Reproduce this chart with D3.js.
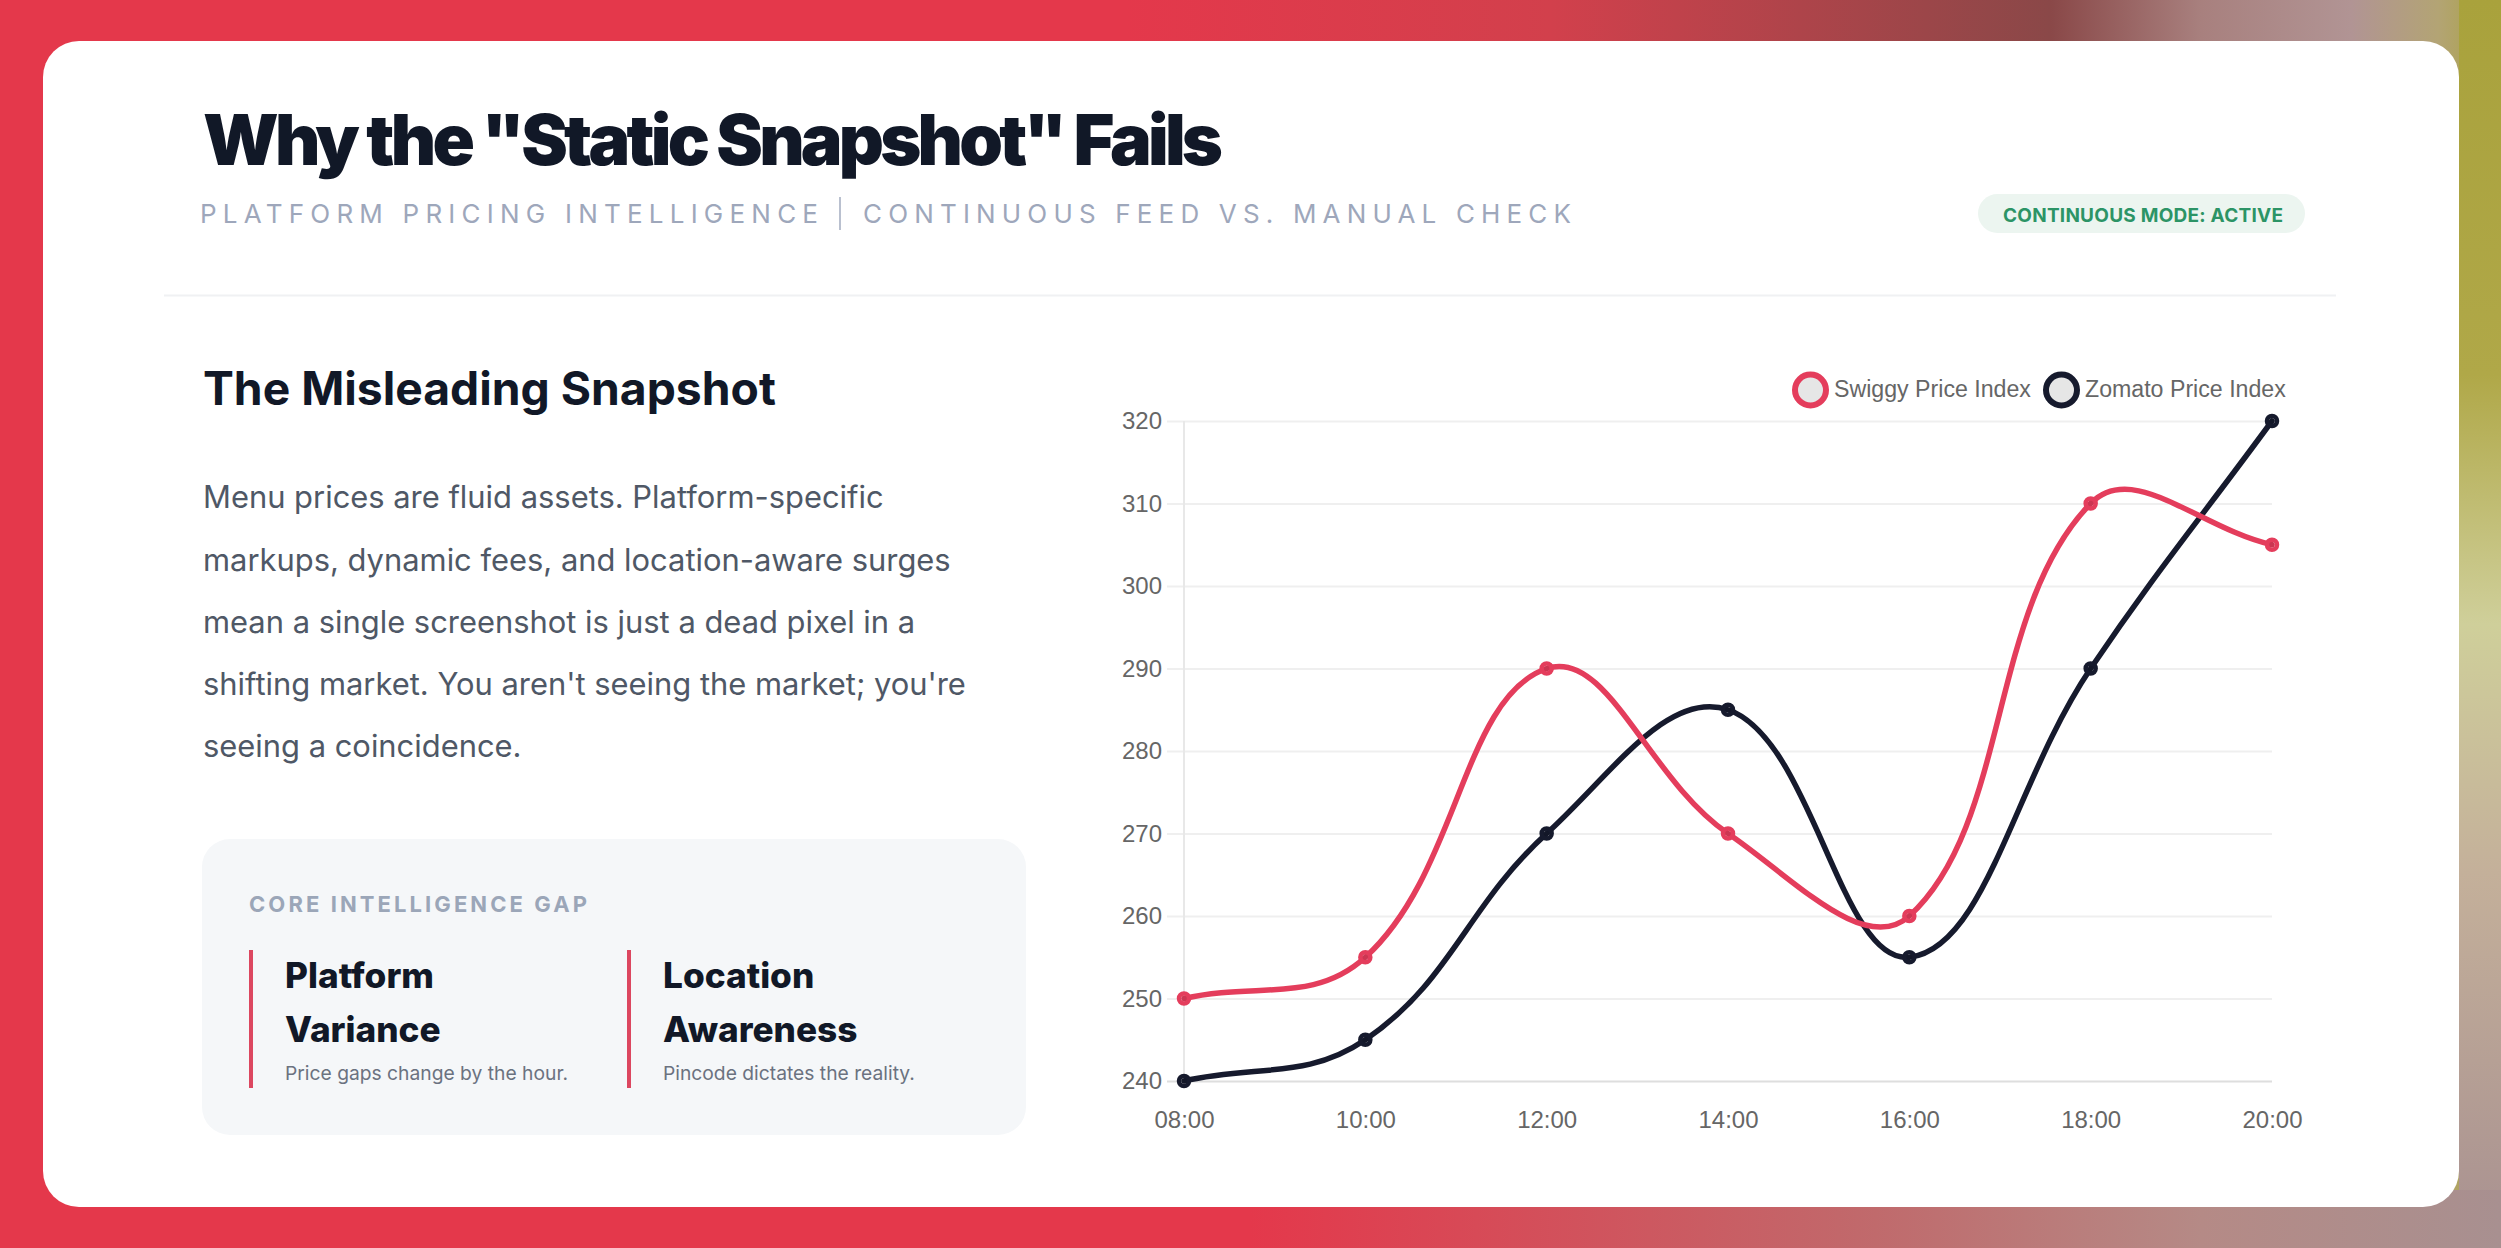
<!DOCTYPE html>
<html>
<head>
<meta charset="utf-8">
<script src="https://cdn.jsdelivr.net/npm/d3@7"></script>
<style>
  html, body { margin: 0; padding: 0; background: #e4384b; overflow: hidden; }
  svg { display: block; }
</style>
</head>
<body>
<svg id="root" width="2501" height="1248"></svg>
<script>
// ---------- DATA ----------
const categories = ["08:00", "10:00", "12:00", "14:00", "16:00", "18:00", "20:00"];
const swiggyValues = [250, 255, 290, 270, 260, 310, 305];
const zomatoValues = [240, 245, 270, 285, 255, 290, 320];
const yTickValues = [240, 250, 260, 270, 280, 290, 300, 310, 320];
const seriesNames = ["Swiggy Price Index", "Zomato Price Index"];
const paragraphLines = [
  "Menu prices are fluid assets. Platform-specific",
  "markups, dynamic fees, and location-aware surges",
  "mean a single screenshot is just a dead pixel in a",
  "shifting market. You aren't seeing the market; you're",
  "seeing a coincidence."
];

// ---------- STYLE ----------
const RED = "#e43d5c";
const NAVY = "#161a2d";
const svg = d3.select("#root");
const W = 2501, H = 1248;

function fitLS(sel, target) {
  sel.attr("letter-spacing", 0);
  const n = sel.text().length;
  const w = sel.node().getComputedTextLength();
  sel.attr("letter-spacing", (target - w) / Math.max(1, n - 1));
}
function fitFS(sel, target) {
  const fs = +sel.attr("font-size");
  const w = sel.node().getComputedTextLength();
  const nf = fs * target / w;
  sel.attr("font-size", nf);
  return nf;
}

// ---------- BACKGROUND ----------
const defs = svg.append("defs");
const bg = defs.append("linearGradient").attr("id", "bgGrad").attr("x1", 0).attr("x2", 1).attr("y1", 0).attr("y2", 0);
[[0, "#e4384b"], [0.45, "#e4384b"], [0.62, "#d2404c"], [0.82, "#8a4848"], [0.88, "#a8807e"], [0.94, "#b19494"], [0.975, "#b3a474"], [1, "#a9a23c"]]
  .forEach(([o, c]) => bg.append("stop").attr("offset", o).attr("stop-color", c));
svg.append("rect").attr("width", W).attr("height", H).attr("fill", "url(#bgGrad)");
// right strip beside the card
const bgR = defs.append("linearGradient").attr("id", "bgRight").attr("x1", 0).attr("x2", 0).attr("y1", 0).attr("y2", 1);
[[0, "#a9a23c"], [0.3, "#b0a848"], [0.5, "#cfcf9a"], [0.7, "#c4b09a"], [1, "#a89090"]]
  .forEach(([o, c]) => bgR.append("stop").attr("offset", o).attr("stop-color", c));
svg.append("rect").attr("x", 2459).attr("y", 0).attr("width", 42).attr("height", H).attr("fill", "url(#bgRight)");
const bgB = defs.append("linearGradient").attr("id", "bgBot").attr("x1", 0).attr("x2", 1).attr("y1", 0).attr("y2", 0);
[[0, "#e4384b"], [0.5, "#e4384b"], [0.75, "#c06a6c"], [0.88, "#b58a86"], [1, "#a89090"]]
  .forEach(([o, c]) => bgB.append("stop").attr("offset", o).attr("stop-color", c));
svg.append("rect").attr("x", 0).attr("y", 1190).attr("width", W).attr("height", 58).attr("fill", "url(#bgBot)");

// ---------- CARD ----------
svg.append("rect").attr("x", 43).attr("y", 41).attr("width", 2416).attr("height", 1166)
  .attr("rx", 36).attr("fill", "#ffffff");

// ---------- HEADER ----------
const title = svg.append("text").attr("x", 203).attr("y", 165)
  .attr("font-family", "Inter").attr("font-weight", 900).attr("font-size", 70)
  .attr("fill", "#111827").text('Why the "Static Snapshot" Fails');
fitLS(title, 1020);

const sub1 = svg.append("text").attr("x", 200).attr("y", 223)
  .attr("font-family", "Inter").attr("font-weight", 400).attr("font-size", 26)
  .attr("fill", "#9ea7bb").text("PLATFORM PRICING INTELLIGENCE");
fitLS(sub1, 618);
svg.append("line").attr("x1", 840).attr("x2", 840).attr("y1", 197).attr("y2", 230)
  .attr("stroke", "#b9c0cf").attr("stroke-width", 2);
const sub2 = svg.append("text").attr("x", 863).attr("y", 223)
  .attr("font-family", "Inter").attr("font-weight", 400).attr("font-size", 26)
  .attr("fill", "#9ea7bb").text("CONTINUOUS FEED VS. MANUAL CHECK");
fitLS(sub2, 708);

svg.append("rect").attr("x", 1978).attr("y", 194).attr("width", 327).attr("height", 39)
  .attr("rx", 19.5).attr("fill", "#ecf5f0");
const badge = svg.append("text").attr("x", 2003).attr("y", 221.5)
  .attr("font-family", "Inter").attr("font-weight", 700).attr("font-size", 19)
  .attr("fill", "#2c9466").text("CONTINUOUS MODE: ACTIVE");
fitLS(badge, 280);

svg.append("line").attr("x1", 164).attr("x2", 2336).attr("y1", 295.5).attr("y2", 295.5)
  .attr("stroke", "#f0f1f3").attr("stroke-width", 2);

// ---------- LEFT TEXT ----------
const h2 = svg.append("text").attr("x", 203).attr("y", 405)
  .attr("font-family", "Inter").attr("font-weight", 700).attr("font-size", 44)
  .attr("fill", "#111827").text("The Misleading Snapshot");
fitFS(h2, 573);

const paraBase = [508, 571, 633, 695, 757];
const paraSel = svg.append("g").selectAll("text").data(paragraphLines).join("text")
  .attr("x", 203).attr("y", (d, i) => paraBase[i])
  .attr("font-family", "Inter").attr("font-weight", 400).attr("font-size", 28)
  .attr("fill", "#4f5866").text(d => d);
const pfs = fitFS(d3.select(paraSel.nodes()[0]), 681);
paraSel.attr("font-size", pfs);

// gap box
svg.append("rect").attr("x", 202).attr("y", 839).attr("width", 824).attr("height", 296)
  .attr("rx", 28).attr("fill", "#f5f7f9");
const core = svg.append("text").attr("x", 249).attr("y", 912)
  .attr("font-family", "Inter").attr("font-weight", 700).attr("font-size", 22)
  .attr("fill", "#9ba6b8").text("CORE INTELLIGENCE GAP");
fitLS(core, 338);

const cards = [
  { x: 250, t1: "Platform", t2: "Variance", s: "Price gaps change by the hour." },
  { x: 628, t1: "Location", t2: "Awareness", s: "Pincode dictates the reality." }
];
let headFS = null, smallFS = null;
cards.forEach(c => {
  svg.append("rect").attr("x", c.x - 1).attr("y", 950).attr("width", 4).attr("height", 138).attr("fill", "#dc4760");
  const a = svg.append("text").attr("x", c.x + 35).attr("y", 988)
    .attr("font-family", "Inter").attr("font-weight", 800).attr("font-size", 32)
    .attr("fill", "#111827").text(c.t1);
  if (headFS === null) headFS = fitFS(a, 149);
  a.attr("font-size", headFS);
  svg.append("text").attr("x", c.x + 35).attr("y", 1042)
    .attr("font-family", "Inter").attr("font-weight", 800).attr("font-size", headFS)
    .attr("fill", "#111827").text(c.t2);
  const s = svg.append("text").attr("x", c.x + 35).attr("y", 1080)
    .attr("font-family", "Inter").attr("font-weight", 400).attr("font-size", 18)
    .attr("fill", "#6b7280").text(c.s);
  if (smallFS === null) smallFS = fitFS(s, 283);
  s.attr("font-size", smallFS);
});

// ---------- CHART ----------
const plot = { left: 1184, right: 2272, top: 421, bottom: 1081 };
const x = d3.scalePoint().domain(categories).range([plot.left, plot.right]);
const y = d3.scaleLinear().domain([240, 320]).range([plot.bottom, plot.top]);
const chartFont = "'Liberation Sans', Arial, Helvetica, sans-serif";

// gridlines + y labels
const yAxis = d3.axisLeft(y).tickValues(yTickValues).tickSize(plot.right - plot.left + 17).tickPadding(5);
const gy = svg.append("g").attr("transform", `translate(${plot.right},0)`).call(yAxis);
gy.select(".domain").remove();
gy.selectAll(".tick line").attr("stroke", d => d === 240 ? "#dedede" : "#efefef").attr("stroke-width", 2);
gy.selectAll(".tick text").attr("font-family", chartFont).attr("font-size", 24).attr("fill", "#666")
  .attr("x", -(plot.right - plot.left) - 22);
// left border
svg.append("line").attr("x1", plot.left).attr("x2", plot.left).attr("y1", plot.top).attr("y2", plot.bottom)
  .attr("stroke", "#e8e8e8").attr("stroke-width", 2);

// x labels
const xAxis = d3.axisBottom(x).tickSize(0).tickPadding(30);
const gx = svg.append("g").attr("transform", `translate(0,${plot.bottom})`).call(xAxis);
gx.select(".domain").remove();
gx.selectAll(".tick text").attr("font-family", chartFont).attr("font-size", 24).attr("fill", "#666");

// Chart.js-style spline (tension 0.4)
function splinePath(vals) {
  const pts = vals.map((v, i) => ({ x: x(categories[i]), y: y(v) }));
  const t = 0.4;
  const cps = pts.map((p, i) => {
    const prev = pts[Math.max(0, i - 1)];
    const next = pts[Math.min(pts.length - 1, i + 1)];
    const d01 = Math.hypot(p.x - prev.x, p.y - prev.y);
    const d12 = Math.hypot(next.x - p.x, next.y - p.y);
    let s01 = d01 / (d01 + d12), s12 = d12 / (d01 + d12);
    if (isNaN(s01)) s01 = 0; if (isNaN(s12)) s12 = 0;
    const fa = t * s01, fb = t * s12;
    const clampY = v => Math.max(plot.top, Math.min(plot.bottom, v));
    const clampX = v => Math.max(plot.left, Math.min(plot.right, v));
    return {
      prev: { x: clampX(p.x - fa * (next.x - prev.x)), y: clampY(p.y - fa * (next.y - prev.y)) },
      next: { x: clampX(p.x + fb * (next.x - prev.x)), y: clampY(p.y + fb * (next.y - prev.y)) }
    };
  });
  const path = d3.path();
  path.moveTo(pts[0].x, pts[0].y);
  for (let i = 0; i < pts.length - 1; i++) {
    path.bezierCurveTo(cps[i].next.x, cps[i].next.y, cps[i + 1].prev.x, cps[i + 1].prev.y, pts[i + 1].x, pts[i + 1].y);
  }
  return path.toString();
}

const series = [
  { name: seriesNames[1], vals: zomatoValues, color: NAVY },
  { name: seriesNames[0], vals: swiggyValues, color: RED }
];
series.forEach(s => {
  svg.append("path").attr("d", splinePath(s.vals)).attr("fill", "none")
    .attr("stroke", s.color).attr("stroke-width", 5.5).attr("stroke-linejoin", "round").attr("stroke-linecap", "round");
  svg.append("g").selectAll("circle").data(s.vals).join("circle")
    .attr("cx", (d, i) => x(categories[i])).attr("cy", d => y(d)).attr("r", 5)
    .attr("fill", "rgba(0,0,0,0.1)").attr("stroke", s.color).attr("stroke-width", 4.5);
});

// legend
const legendItems = [
  { name: seriesNames[0], color: RED, cx: 1810.5, tx: 1834 },
  { name: seriesNames[1], color: NAVY, cx: 2061.5, tx: 2085 }
];
let legFS = null;
legendItems.forEach(l => {
  svg.append("circle").attr("cx", l.cx).attr("cy", 390).attr("r", 15.5)
    .attr("fill", "#e6e6e6").attr("stroke", l.color).attr("stroke-width", 6);
  const lt = svg.append("text").attr("x", l.tx).attr("y", 396.5)
    .attr("font-family", chartFont).attr("font-size", 24).attr("fill", "#666").text(l.name);
  if (legFS === null) legFS = fitFS(lt, 197);
  lt.attr("font-size", legFS);
});
</script>
</body>
</html>
